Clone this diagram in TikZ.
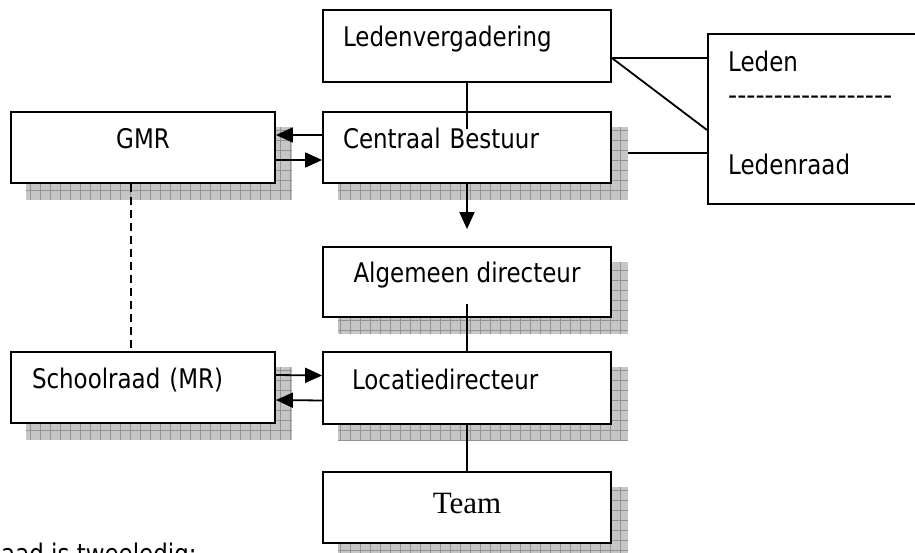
\documentclass[tikz,border=0pt]{standalone}
\usepackage{fontspec}
\setmainfont{DejaVu Sans}[FakeStretch=0.85]
\newfontfamily\teamfont{Liberation Serif}
\usetikzlibrary{arrows.meta,calc,backgrounds}
\newcommand\dropshadow[1]{%
  \begin{scope}
    \clip ($(#1.north west)+(16,16)$) rectangle ($(#1.south east)+(16,16)$);
    \fill[shadowfill] ($(#1.north west)+(16,16)$) rectangle ($(#1.south east)+(16,16)$);
    \draw[shadowgrid, step=10pt] ($(#1.north west)+(16,16)$) grid ($(#1.south east)+(16,16)$);
  \end{scope}}
\begin{document}
\begin{tikzpicture}[x=1pt,y=-1pt,
  txt/.style={font=\fontsize{27pt}{32pt}\selectfont},
  box/.style={txt, draw=black, line width=1.8pt, fill=white, rectangle,
    inner ysep=0pt, text height=18pt, text depth=16pt},
  conn/.style={draw=black, line width=1.8pt},
  arr/.style={conn, -{Triangle[length=17pt,width=15pt]}},
  shadowfill/.style={fill=gray!45},
  shadowgrid/.style={draw=gray!85, line width=0.6pt}]
\useasboundingbox (0,0) rectangle (915,553);

% boxes
\node[box, align=left, inner xsep=20pt, text width=248pt, minimum height=72pt] (lv) at (467,46) {Ledenvergadering};
\node[box, align=left, inner xsep=20pt, text width=248pt, minimum height=71pt] (cb) at (467,147.5) {Centraal Bestuur};
\node[box, minimum width=264pt, minimum height=71pt] (gmr) at (143,147.5) {GMR};
\node[box, minimum width=288pt, minimum height=70pt] (alg) at (467,282) {Algemeen directeur};
\node[box, align=left, inner xsep=29pt, text width=230pt, minimum height=72pt] (loc) at (467,388) {Locatiedirecteur};
\node[box, align=left, inner xsep=21pt, text width=222pt, minimum height=71pt] (sr) at (143,387.5) {Schoolraad (MR)};
\node[box, font=\teamfont\fontsize{31pt}{36pt}\selectfont, text height=21pt, text depth=10pt,
      minimum width=288pt, minimum height=71pt] (team) at (467,507.5) {Team};
\node[draw=black, line width=1.8pt, fill=white, anchor=north west, inner sep=0pt,
      minimum width=233pt, minimum height=170pt] (leden) at (707,33) {};

% texts in the Leden box
\node[txt, anchor=base west, inner sep=0pt] (ledent) at (728,72) {Leden};
\node[txt, anchor=base west, inner sep=0pt] (dashes) at (728,105) {\scalebox{1.1}[1]{-{}-{}-{}-{}-{}-{}-{}-{}-{}-{}-{}-{}-{}-{}-{}-{}-{}-}};
\node[txt, anchor=base west, inner sep=0pt] (ledenraad) at (728,175) {Ledenraad};

% note at the bottom (cut off)
\node[txt, anchor=base west, inner sep=0pt] (note) at (1,563) {aad is tweeledig:};

% shadows
\begin{scope}[on background layer]
  \dropshadow{gmr}
  \dropshadow{cb}
  \dropshadow{alg}
  \dropshadow{loc}
  \dropshadow{sr}
  \dropshadow{team}
\end{scope}

% connectors
\draw[conn] (lv.south) -- ([yshift=-18pt]cb.north);
\draw[conn] ([yshift=-12pt]lv.east) -- ($(leden.north west)+(0,25)$);
\draw[conn] ([yshift=-12pt]lv.east) -- ($(leden.north west)+(0,97)$);
\draw[conn] ([xshift=16pt,yshift=-5.5pt]cb.east) -- ($(leden.north west)+(0,120)$);
\draw[arr] ([yshift=12.5pt]cb.west) -- ([yshift=12.5pt]gmr.east);
\draw[arr] ([yshift=-12.5pt]gmr.east) -- ([yshift=-12.5pt]cb.west);
\draw[arr] (cb.south) -- ([yshift=17pt]alg.north);
\draw[conn] ([yshift=14pt]alg.south) -- (loc.north);
\draw[arr] ([yshift=12.5pt]sr.east) -- ([yshift=12.5pt]loc.west);
\draw[arr] ([yshift=-12.5pt]loc.west) -- ([yshift=-12.5pt]sr.east);
\draw[conn] (loc.south) -- (team.north);
\draw[conn, dash pattern=on 8pt off 5pt] ([xshift=-12pt]gmr.south) -- ([xshift=-12pt]sr.north);
\end{tikzpicture}
\end{document}
